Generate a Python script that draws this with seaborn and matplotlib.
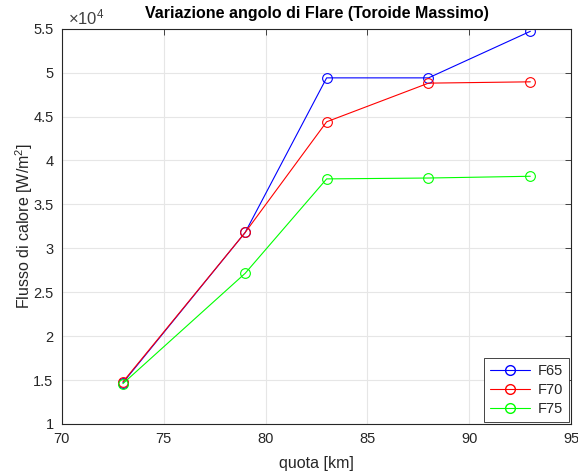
import numpy as np
import pandas as pd
import matplotlib
matplotlib.use("Agg")
import matplotlib.pyplot as plt
import seaborn as sns
from matplotlib.ticker import FuncFormatter, MultipleLocator
from matplotlib.lines import Line2D

# Heat flux vs altitude for three flare angles
quota = [73, 79, 83, 88, 93]
F65 = [14700, 31800, 49400, 49400, 54700]
F70 = [14800, 31800, 44400, 48800, 48950]
F75 = [14600, 27150, 37900, 38000, 38200]
series_names = ["F65", "F70", "F75"]
series_colors = ["#0000ff", "#ff0000", "#00ff00"]

df = pd.concat([
    pd.DataFrame({"quota": quota, "flusso": vals, "serie": name})
    for name, vals in zip(series_names, [F65, F70, F75])
])

sns.set_theme(style="white")
plt.rcParams["font.family"] = ["Liberation Sans", "DejaVu Sans"]
plt.rcParams["mathtext.fontset"] = "custom"
plt.rcParams["mathtext.rm"] = "Liberation Sans"
plt.rcParams["mathtext.it"] = "Liberation Sans"

fig = plt.figure(figsize=(5.78, 4.74), dpi=100)
ax = fig.add_axes([0.107, 0.1055, 0.881, 0.834])

sns.lineplot(data=df, x="quota", y="flusso", hue="serie",
             palette=dict(zip(series_names, series_colors)),
             marker="o", markersize=7, linewidth=0.8, legend=False, ax=ax)

for line in ax.lines:
    c = line.get_color()
    line.set_markerfacecolor("none")
    line.set_markeredgecolor(c)
    line.set_markeredgewidth(0.8)

ax.set_xlim(70, 95)
ax.set_ylim(10000, 55000)
ax.xaxis.set_major_locator(MultipleLocator(5))
ax.yaxis.set_major_locator(MultipleLocator(5000))
ax.yaxis.set_major_formatter(FuncFormatter(lambda v, p: f"{v/1e4:g}"))

tick_color = "#262626"
ax.grid(True, color="#e6e6e6", linewidth=0.8)
ax.set_axisbelow(True)
for s in ax.spines.values():
    s.set_color(tick_color)
    s.set_linewidth(0.8)
ax.tick_params(axis="both", direction="in", length=4, width=0.6,
               colors=tick_color, labelsize=10.5, top=True, right=True,
               labelcolor=tick_color, pad=6)

ax.text(0.012, 1.011, r"$\times10^{4}$", transform=ax.transAxes,
        fontsize=12, color="#404040", ha="left", va="baseline")

ax.set_title("Variazione angolo di Flare (Toroide Massimo)",
             fontsize=11.5, fontweight="bold", color="black", pad=8)
ax.set_xlabel("quota [km]", fontsize=11.5, color=tick_color, labelpad=7)
ax.set_ylabel(r"Flusso di calore [W/m$^2$]", fontsize=11.5,
              color=tick_color, labelpad=-1)

handles = [Line2D([], [], color=c, marker="o", markersize=7,
                  markerfacecolor="none", markeredgecolor=c,
                  linewidth=0.8) for c in series_colors]
leg = ax.legend(handles, series_names, loc="lower right", fontsize=10.5,
                frameon=True, fancybox=False, edgecolor="#262626",
                framealpha=1, handlelength=2.8, borderpad=0.4,
                labelspacing=0.35, borderaxespad=0.15, handletextpad=0.5)
leg.get_frame().set_linewidth(0.6)

fig.savefig("out.png", dpi=100)
